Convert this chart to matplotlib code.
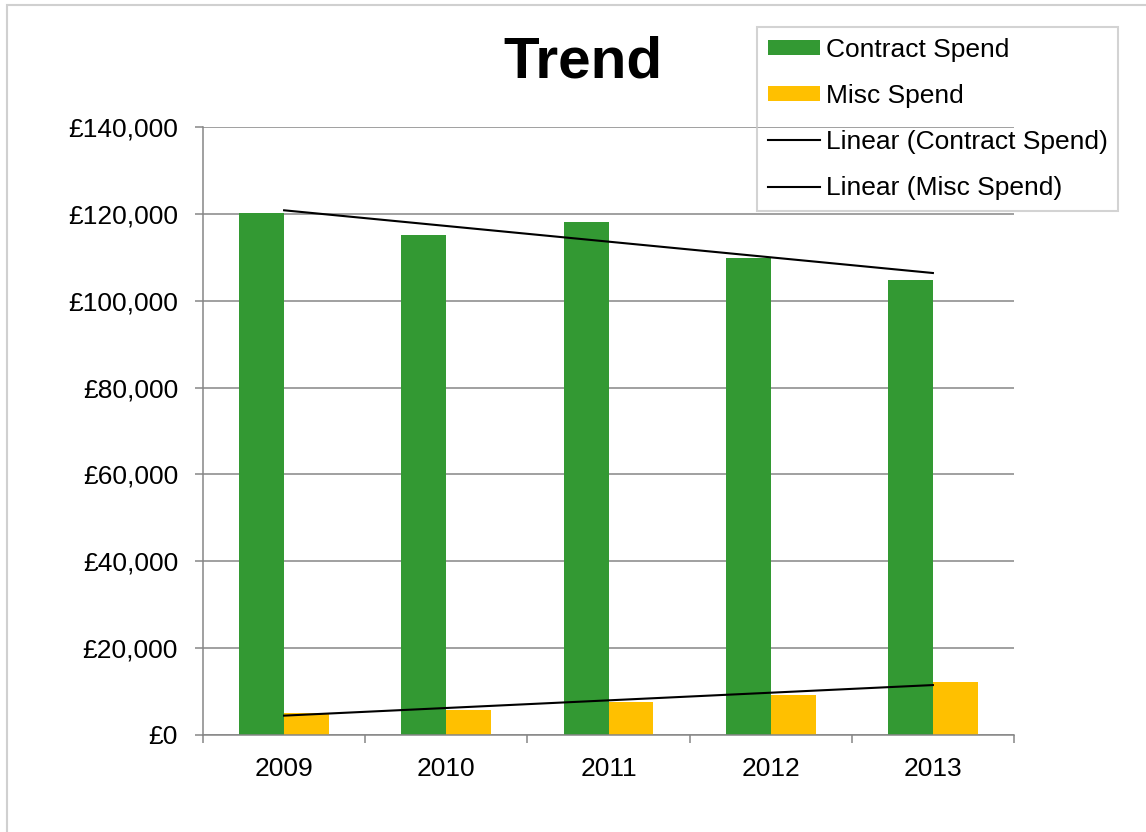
import numpy as np
import matplotlib
matplotlib.use("Agg")
import matplotlib.pyplot as plt
from matplotlib.patches import Rectangle
from matplotlib.ticker import FuncFormatter

plt.rcParams['font.family'] = ['Liberation Sans', 'DejaVu Sans']

years = ["2009", "2010", "2011", "2012", "2013"]
contract_spend = [120200, 115100, 118100, 109800, 104800]
misc_spend = [5100, 5800, 7600, 9200, 12200]

GREEN = "#339933"
YELLOW = "#FFC000"
GRID = "#868686"

W, H = 1146, 832
fig = plt.figure(figsize=(W / 100, H / 100), dpi=100)
ax = fig.add_axes([203 / W, 1 - 735 / H, (1014 - 203) / W, (735 - 127) / H])

x = np.arange(len(years))
bw = 0.277
b1 = ax.bar(x - bw / 2, contract_spend, width=bw, color=GREEN, zorder=2,
            label="Contract Spend")
b2 = ax.bar(x + bw / 2, misc_spend, width=bw, color=YELLOW, zorder=2,
            label="Misc Spend")

# linear trend lines (least-squares fit, as in the spreadsheet)
pc = np.polyfit(x, contract_spend, 1)
pm = np.polyfit(x, misc_spend, 1)
l1, = ax.plot(x, np.polyval(pc, x), color="black", lw=1.5, zorder=3,
              label="Linear (Contract Spend)")
l2, = ax.plot(x, np.polyval(pm, x), color="black", lw=1.5, zorder=3,
              label="Linear (Misc Spend)")

ax.set_xlim(-0.5, len(years) - 0.5)
ax.set_ylim(0, 140000)
ax.set_yticks(np.arange(0, 140001, 20000))
ax.yaxis.set_major_formatter(FuncFormatter(lambda v, p: "£{:,.0f}".format(v)))
ax.grid(axis="y", color=GRID, lw=1.1, zorder=0)
ax.set_axisbelow(True)

ax.set_xticks(x)
ax.set_xticklabels(years)
ax.set_xticks(np.arange(-0.5, len(years), 1.0), minor=True)
ax.tick_params(axis="x", which="major", length=0, pad=16, labelsize=19)
ax.tick_params(axis="x", which="minor", length=6, width=1.1, color=GRID, direction="out")
ax.tick_params(axis="y", length=6, width=1.1, color=GRID, direction="out",
               pad=12, labelsize=19)

for s in ("top", "right"):
    ax.spines[s].set_visible(False)
for s in ("left", "bottom"):
    ax.spines[s].set_color(GRID)
    ax.spines[s].set_linewidth(1.1)

fig.text(583 / W, 1 - 78 / H, "Trend", fontsize=42, fontweight="bold",
         ha="center", va="baseline")

leg = fig.legend(handles=[b1, b2, l1, l2], loc="upper left",
                 bbox_to_anchor=(757 / W, 1 - 27 / H), fontsize=19,
                 frameon=True, fancybox=False, facecolor="none",
                 edgecolor="#c8c8c8", handlelength=2.0, handletextpad=0.2,
                 handleheight=0.5, labelspacing=0.84, borderpad=0.4,
                 borderaxespad=0)
leg.get_frame().set_linewidth(1.5)

fig.patches.append(Rectangle((7 / W, -0.1), 1.2, 1 - 5 / H + 0.1,
                             transform=fig.transFigure, fill=False,
                             edgecolor="#d0d0d0", lw=1.5))

fig.savefig("out.png", dpi=100)
